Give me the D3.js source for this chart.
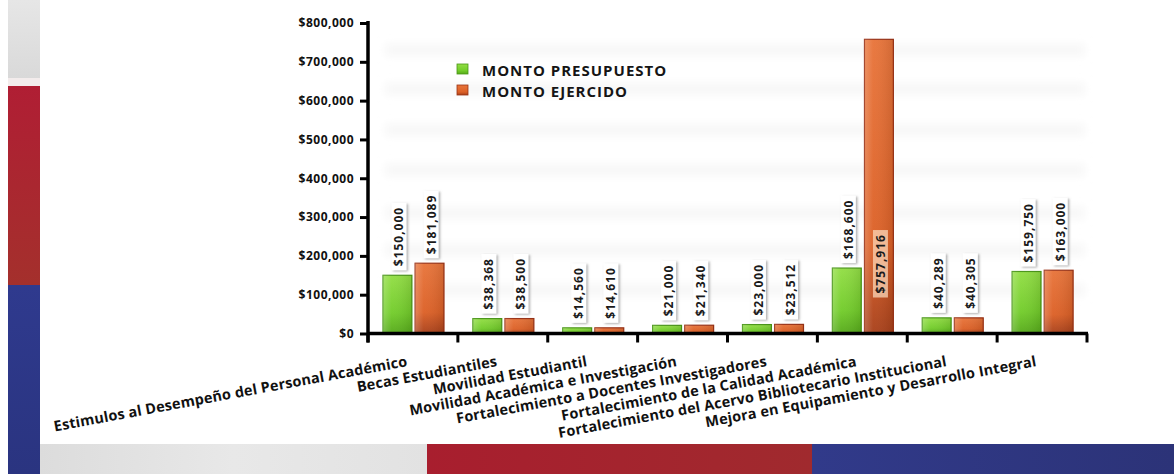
<!DOCTYPE html>
<html>
<head>
<meta charset="utf-8">
<script src="https://cdn.jsdelivr.net/npm/d3@7/dist/d3.min.js"></script>
<style>
  html, body { margin: 0; padding: 0; background: #ffffff; }
  svg { display: block; font-family: "Open Sans", Lato, sans-serif; }
</style>
</head>
<body>
<svg id="chart" width="1174" height="474"></svg>
<script>
// ---- data ----
const categories = [
  "Estimulos al Desempeño del Personal Académico",
  "Becas Estudiantiles",
  "Movilidad Estudiantil",
  "Movilidad Académica e Investigación",
  "Fortalecimiento a Docentes Investigadores",
  "Fortalecimiento de la Calidad Académica",
  "Fortalecimiento del Acervo Bibliotecario Institucional",
  "Mejora en Equipamiento y Desarrollo Integral"
];
const seriesNames = ["MONTO PRESUPUESTO", "MONTO EJERCIDO"];
const montoPresupuesto = [150000, 38368, 14560, 21000, 23000, 168600, 40289, 159750];
const montoEjercido = [181089, 38500, 14610, 21340, 23512, 757916, 40305, 163000];
const yTicks = [0, 100000, 200000, 300000, 400000, 500000, 600000, 700000, 800000];

const svg = d3.select("#chart");
const W = 1174, H = 474;
const FONT = "'Open Sans', Lato, sans-serif";

// ---- defs ----
const defs = svg.append("defs");
function vgrad(id, stops) {
  const g = defs.append("linearGradient").attr("id", id)
    .attr("x1", 0).attr("y1", 0).attr("x2", 0).attr("y2", 1);
  stops.forEach(s => g.append("stop").attr("offset", s[0]).attr("stop-color", s[1]));
}
function hgrad(id, stops) {
  const g = defs.append("linearGradient").attr("id", id)
    .attr("x1", 0).attr("y1", 0).attr("x2", 1).attr("y2", 0);
  stops.forEach(s => g.append("stop").attr("offset", s[0]).attr("stop-color", s[1]));
}
vgrad("gGreen", [[0, "#92de44"], [0.65, "#72cc2a"], [1, "#56aa1a"]]);
vgrad("gOrange", [[0, "#e8743a"], [0.7, "#dc6026"], [1, "#a8401a"]]);
hgrad("gShine", [[0, "rgba(255,255,255,0.22)"], [0.3, "rgba(255,255,255,0.04)"], [1, "rgba(0,0,0,0.10)"]]);
vgrad("gStripGray", [[0, "#e6e6e6"], [1, "#d9d9d9"]]);
vgrad("gStripRed", [[0, "#b01e34"], [1, "#a4302c"]]);
vgrad("gStripBlue", [[0, "#2f3a8e"], [1, "#2a3480"]]);
hgrad("gBotGray", [[0, "#dcdcdc"], [0.5, "#e8e8e8"], [1, "#e2e2e2"]]);
hgrad("gBotRed", [[0, "#a81e2e"], [1, "#a02a2e"]]);
hgrad("gBotBlue", [[0, "#313a8a"], [1, "#2c3378"]]);

const blur = defs.append("filter").attr("id", "blur").attr("x", "-10%").attr("y", "-100%").attr("width", "120%").attr("height", "300%");
blur.append("feGaussianBlur").attr("stdDeviation", 4);

const shadow = defs.append("filter").attr("id", "shadow").attr("x", "-30%").attr("y", "-10%").attr("width", "160%").attr("height", "130%");
shadow.append("feDropShadow").attr("dx", 1.5).attr("dy", 1).attr("stdDeviation", 1)
  .attr("flood-color", "#777").attr("flood-opacity", 0.6);

// ---- background decorations ----
svg.append("rect").attr("width", W).attr("height", H).attr("fill", "#ffffff");
const stripeYs = [50, 89, 130, 170, 213, 250, 290];
svg.append("g").attr("filter", "url(#blur)").selectAll("rect").data(stripeYs).join("rect")
  .attr("x", 385).attr("y", d => d - 6).attr("width", 700).attr("height", 12)
  .attr("fill", "#f7f7f7");

// left strip
svg.append("rect").attr("x", 8).attr("y", 0).attr("width", 32).attr("height", 78).attr("fill", "url(#gStripGray)");
svg.append("rect").attr("x", 8).attr("y", 78).attr("width", 32).attr("height", 8).attr("fill", "#f3ecec");
svg.append("rect").attr("x", 8).attr("y", 86).attr("width", 32).attr("height", 199).attr("fill", "url(#gStripRed)");
svg.append("rect").attr("x", 8).attr("y", 285).attr("width", 32).attr("height", 189).attr("fill", "url(#gStripBlue)");
// bottom band
svg.append("rect").attr("x", 40).attr("y", 444).attr("width", 387).attr("height", 30).attr("fill", "url(#gBotGray)");
svg.append("rect").attr("x", 427).attr("y", 444).attr("width", 385).attr("height", 30).attr("fill", "url(#gBotRed)");
svg.append("rect").attr("x", 812).attr("y", 444).attr("width", 362).attr("height", 30).attr("fill", "url(#gBotBlue)");

// ---- scales ----
const x0 = d3.scaleBand().domain(categories).range([368, 1087]).paddingInner(0).paddingOuter(0);
const x1 = d3.scaleBand().domain(seriesNames).range([15, 76]).paddingInner(0.1).paddingOuter(0);
const y = d3.scaleLinear().domain([0, 800000]).range([333.5, 23]);

const fmt = v => "$" + d3.format(",")(v);
const colorFill = { "MONTO PRESUPUESTO": "url(#gGreen)", "MONTO EJERCIDO": "url(#gOrange)" };
const colorStroke = { "MONTO PRESUPUESTO": "#4a9618", "MONTO EJERCIDO": "#9a3216" };

const rows = [];
categories.forEach((c, i) => {
  rows.push({ cat: c, s: seriesNames[0], v: montoPresupuesto[i] });
  rows.push({ cat: c, s: seriesNames[1], v: montoEjercido[i] });
});

// ---- bars ----
const gBars = svg.append("g");
const bx = d => x0(d.cat) + x1(d.s);
gBars.selectAll("rect.bar").data(rows).join("rect").attr("class", "bar")
  .attr("x", bx).attr("y", d => y(d.v))
  .attr("width", x1.bandwidth()).attr("height", d => y(0) - y(d.v))
  .attr("fill", d => colorFill[d.s]).attr("stroke", d => colorStroke[d.s]).attr("stroke-width", 1.2);
gBars.selectAll("rect.shine").data(rows).join("rect").attr("class", "shine")
  .attr("x", bx).attr("y", d => y(d.v))
  .attr("width", x1.bandwidth()).attr("height", d => y(0) - y(d.v))
  .attr("fill", "url(#gShine)");

// ---- value labels ----
const gLbl = svg.append("g");
rows.forEach(d => {
  const cx = bx(d) + x1.bandwidth() / 2 + 1.5;
  const t = gLbl.append("text").text(fmt(d.v))
    .attr("font-family", FONT)
    .attr("font-size", 12).attr("font-weight", 700).attr("fill", "#1a1a1a")
    .attr("letter-spacing", 1)
    .attr("text-anchor", "middle").attr("dominant-baseline", "central");
  const len = t.node().getComputedTextLength();
  const boxH = len + 8, boxW = 15;
  let bottom = y(d.v) - 5;
  let inside = false;
  if (bottom - boxH < y(800000)) { bottom = y(0) - 36; inside = true; }
  const cy = bottom - boxH / 2;
  gLbl.insert("rect", "text")
    .attr("x", cx - boxW / 2).attr("y", bottom - boxH).attr("width", boxW).attr("height", boxH)
    .attr("fill", inside ? "rgba(250,215,185,0.75)" : "#ffffff")
    .attr("filter", inside ? null : "url(#shadow)");
  t.attr("transform", `translate(${cx},${cy}) rotate(-90)`);
});

// ---- axes ----
const yAxis = d3.axisLeft(y).tickValues(yTicks).tickFormat(fmt).tickSize(8).tickPadding(6);
const gy = svg.append("g").attr("transform", "translate(368,0)").call(yAxis);
gy.select(".domain").attr("stroke", "#000").attr("stroke-width", 3.5).attr("d", `M0,${y(800000) - 2}V${y(0) + 9}`);
gy.selectAll(".tick line").attr("stroke", "#000").attr("stroke-width", 3);
gy.selectAll(".tick text").attr("font-size", 12).attr("font-weight", 700).attr("fill", "#111")
  .attr("letter-spacing", 0.5).attr("font-family", FONT);

const xAxis = d3.axisBottom(x0).tickSize(0).tickFormat("");
const gx = svg.append("g").attr("transform", `translate(0,${y(0)})`).call(xAxis);
gx.select(".domain").attr("stroke", "#000").attr("stroke-width", 3.5).attr("d", "M367,0H1088");
const bounds = categories.map(c => x0(c)).concat([x0.range()[1]]);
gx.selectAll("line.bt").data(bounds).join("line").attr("class", "bt")
  .attr("x1", d => d).attr("x2", d => d).attr("y1", 0).attr("y2", 9)
  .attr("stroke", "#000").attr("stroke-width", 3);
gx.selectAll("text.cl").data(categories).join("text").attr("class", "cl")
  .text(d => d)
  .attr("font-family", FONT)
  .attr("font-size", 14.5).attr("font-weight", 700).attr("fill", "#111")
  .attr("letter-spacing", 0.15)
  .attr("text-anchor", "end")
  .attr("transform", d => `translate(${x0(d) + x0.bandwidth() / 2 - 5},${366 - y(0)}) rotate(-10.5)`);

// ---- legend ----
const gLeg = svg.append("g").attr("transform", "translate(457,64)");
seriesNames.forEach((s, i) => {
  const g = gLeg.append("g").attr("transform", `translate(0,${i * 21})`);
  g.append("rect").attr("width", 11).attr("height", 10).attr("fill", colorFill[s])
    .attr("stroke", colorStroke[s]).attr("stroke-width", 0.8);
  g.append("text").text(s).attr("x", 25).attr("y", 11.5)
    .attr("font-family", FONT)
    .attr("font-size", 15).attr("font-weight", 700).attr("fill", "#151515")
    .attr("letter-spacing", 1);
});
</script>
</body>
</html>
